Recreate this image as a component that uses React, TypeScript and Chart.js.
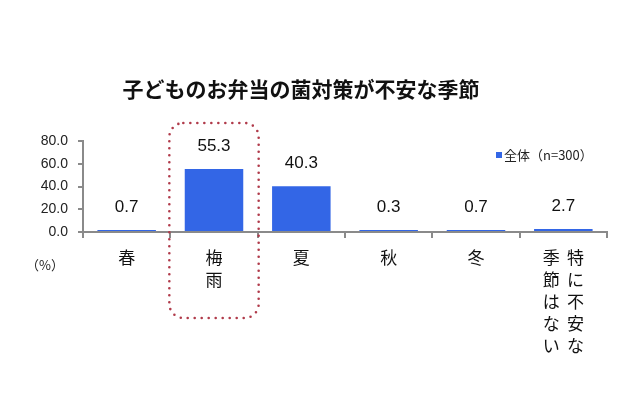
import React, { useEffect, useRef } from "react";
import { Chart, registerables } from "chart.js";

Chart.register(...registerables);

const TITLE = "子どものお弁当の菌対策が不安な季節";
const CATEGORIES = ["春", "梅雨", "夏", "秋", "冬", "特に不安な季節はない"];
const SERIES_NAME = "全体（n=300）";
const VALUES = [0.7, 55.3, 40.3, 0.3, 0.7, 2.7];
const Y_TICKS = [0, 20, 40, 60, 80];
const UNIT_LABEL = "（%）";
const HIGHLIGHT_INDEX = 1;

const BAR_COLOR = "#3366E6";
const AXIS_COLOR = "#8a8a8a";
const JP = "'Noto Sans CJK JP', 'Noto Sans', sans-serif";
const LAT = "'Liberation Sans', Arial, sans-serif";

function splitLabel(s: string): string[] {
  if (s.length <= 2) return s.split("");
  const half = Math.ceil(s.length / 2);
  const right = s.slice(0, half).split("");
  const left = s.slice(half).split("");
  return right.map((r, i) => (left[i] || "　") + " \u2009" + r);
}

const overlay = {
  id: "overlay",
  afterDatasetsDraw(chart: any) {
    const ctx = chart.ctx;
    const meta = chart.getDatasetMeta(0);
    ctx.save();
    // value labels
    ctx.fillStyle = "#111";
    ctx.font = `17px ${LAT}`;
    ctx.textAlign = "center";
    ctx.textBaseline = "middle";
    meta.data.forEach((bar: any, i: number) => {
      ctx.fillText(VALUES[i].toFixed(1), bar.x, bar.y - 23);
    });
    // highlight dotted rounded rect
    const xs = chart.scales.x;
    const cx = xs.getPixelForValue(HIGHLIGHT_INDEX);
    const w = xs.width / CATEGORIES.length;
    const x0 = cx - w / 2 - 1;
    const x1 = cx + w / 2 + 1;
    const y0 = chart.chartArea.top - 18;
    const y1 = 318;
    ctx.strokeStyle = "#b03a4a";
    ctx.lineWidth = 2.6;
    ctx.lineCap = "round";
    ctx.setLineDash([0, 7]);
    ctx.beginPath();
    ctx.roundRect(x0, y0, x1 - x0, y1 - y0, 14);
    ctx.stroke();
    ctx.setLineDash([]);
    // title
    ctx.fillStyle = "#111";
    ctx.font = `bold 21px ${JP}`;
    ctx.textAlign = "center";
    ctx.fillText(TITLE, 301, 89);
    // unit label
    ctx.font = `13px ${JP}`;
    ctx.fillStyle = "#222";
    ctx.fillText(UNIT_LABEL, 45, 265);
    // legend
    ctx.fillStyle = BAR_COLOR;
    ctx.fillRect(496, 152, 6, 6);
    ctx.fillStyle = "#222";
    ctx.textAlign = "left";
    ctx.font = `13px ${JP}`;
    ctx.fillText(SERIES_NAME, 504, 155);
    ctx.restore();
  },
};

export default function App() {
  const ref = useRef<HTMLCanvasElement | null>(null);
  useEffect(() => {
    if (!ref.current) return;
    const chart = new Chart(ref.current, {
      type: "bar",
      data: {
        labels: CATEGORIES,
        datasets: [
          {
            label: SERIES_NAME,
            data: VALUES,
            backgroundColor: BAR_COLOR,
            borderWidth: 0,
            barPercentage: 0.67,
            categoryPercentage: 1,
            minBarLength: 2,
          },
        ],
      },
      options: {
        animation: false,
        responsive: false,
        devicePixelRatio: 1,
        layout: { padding: { top: 141, right: 33, left: 0, bottom: 0 } },
        plugins: {
          legend: { display: false },
          title: { display: false },
          tooltip: { enabled: false },
        },
        scales: {
          x: {
            offset: true,
            grid: {
              offset: true,
              drawOnChartArea: false,
              drawTicks: true,
              tickLength: 6,
              color: AXIS_COLOR,
              lineWidth: 2,
            },
            border: { color: AXIS_COLOR, width: 2 },
            ticks: {
              autoSkip: false,
              maxRotation: 0,
              padding: 9,
              color: "#111",
              font: { family: JP, size: 17, lineHeight: "22px" as any },
              callback: (_v: any, i: number) => splitLabel(CATEGORIES[i]),
            },
            afterFit: (s: any) => {
              s.height = 400 - 232;
            },
          },
          y: {
            min: 0,
            max: 80,
            afterBuildTicks: (s: any) => {
              s.ticks = Y_TICKS.map((v) => ({ value: v }));
            },
            grid: {
              drawOnChartArea: false,
              tickLength: 5,
              color: AXIS_COLOR,
              lineWidth: 2,
            },
            border: { color: AXIS_COLOR, width: 2 },
            ticks: {
              padding: 10,
              color: "#222",
              font: { family: LAT, size: 14 },
              callback: (v: any) => Number(v).toFixed(1),
            },
            afterFit: (s: any) => {
              s.width = 83;
            },
          },
        },
      },
      plugins: [overlay],
    });
    return () => chart.destroy();
  }, []);
  return (
    <div style={{ position: "fixed", left: 0, top: 0, width: 640, height: 400, background: "#fff" }}>
      <canvas ref={ref} width={640} height={400} style={{ width: 640, height: 400 }} />
    </div>
  );
}
